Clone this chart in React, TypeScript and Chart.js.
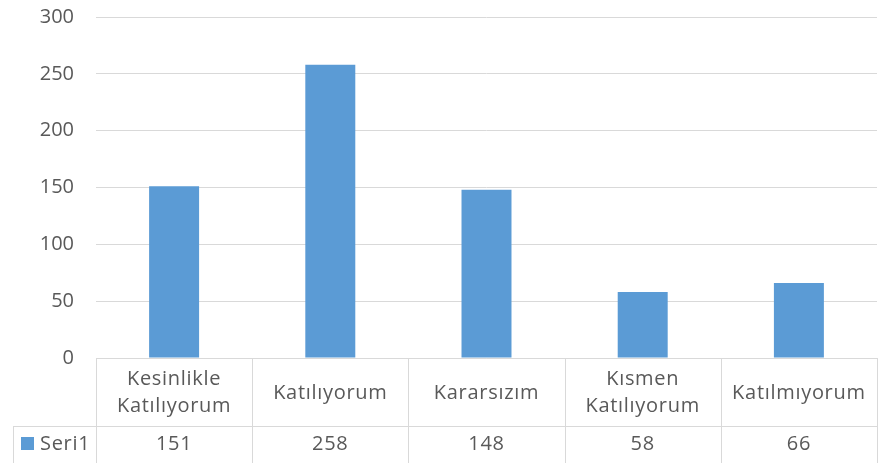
import React, { useEffect, useRef } from "react";
import { Chart, registerables } from "chart.js";

Chart.register(...registerables);

const categories: string[][] = [
  ["Kesinlikle", "Katılıyorum"],
  ["Katılıyorum"],
  ["Kararsızım"],
  ["Kısmen", "Katılıyorum"],
  ["Katılmıyorum"],
];
const seriesName = "Seri1";
const seriesValues = [151, 258, 148, 58, 66];
const yTicks = [0, 50, 100, 150, 200, 250, 300];

const BAR = "#5B9BD5";
const TEXT = "#595959";
const GRID = "#d9d9d9";
const FONT = "'Open Sans', sans-serif";

const tablePlugin = {
  id: "dataTable",
  afterDraw(chart: any) {
    const { ctx, chartArea } = chart;
    const x = chart.scales.x;
    const n = categories.length;
    const left = chartArea.left;
    const right = chartArea.right;
    const top = chartArea.bottom;
    const cw = (right - left) / n;
    const row1 = top + 68;
    const bottom = chart.height;
    const legendLeft = 13;
    ctx.save();
    ctx.strokeStyle = GRID;
    ctx.lineWidth = 1;
    const hline = (x1: number, x2: number, y: number) => {
      ctx.beginPath();
      ctx.moveTo(x1, Math.round(y) + 0.5);
      ctx.lineTo(x2, Math.round(y) + 0.5);
      ctx.stroke();
    };
    const vline = (xx: number, y1: number, y2: number) => {
      ctx.beginPath();
      ctx.moveTo(Math.round(xx) + 0.5, y1);
      ctx.lineTo(Math.round(xx) + 0.5, y2);
      ctx.stroke();
    };
    hline(left, right, top);
    hline(legendLeft, right, row1);
    for (let i = 0; i <= n; i++) vline(left + i * cw, top, bottom);
    vline(legendLeft, row1, bottom);

    ctx.fillStyle = TEXT;
    ctx.textAlign = "center";
    ctx.textBaseline = "middle";
    ctx.font = `20px ${FONT}`;
    (ctx as any).letterSpacing = "0.7px";
    categories.forEach((lines, i) => {
      const cx = x.getPixelForValue(i);
      const lh = 27;
      const cy = (top + row1) / 2 + 1;
      lines.forEach((ln, j) => {
        ctx.fillText(ln, cx, cy + (j - (lines.length - 1) / 2) * lh);
      });
    });
    const vy = row1 + 18;
    seriesValues.forEach((v, i) => {
      ctx.fillText(String(v), x.getPixelForValue(i), vy);
    });
    ctx.fillStyle = BAR;
    ctx.fillRect(21, vy - 7, 13, 13);
    ctx.fillStyle = TEXT;
    ctx.textAlign = "left";
    ctx.fillText(seriesName, 40, vy);
    ctx.restore();
  },
};

export default function App() {
  const ref = useRef<HTMLCanvasElement | null>(null);
  useEffect(() => {
    document.body.style.margin = "0";
    const chart = new Chart(ref.current as HTMLCanvasElement, {
      type: "bar",
      data: {
        labels: categories.map((c) => c.join(" ")),
        datasets: [
          {
            label: seriesName,
            data: seriesValues,
            backgroundColor: BAR,
            categoryPercentage: 1,
            barPercentage: 0.32,
          },
        ],
      },
      options: {
        animation: false,
        responsive: false,
        maintainAspectRatio: false,
        layout: { padding: { top: 17, right: 14, left: 0, bottom: 0 } },
        plugins: { legend: { display: false }, tooltip: { enabled: false } },
        scales: {
          x: {
            grid: { display: false },
            border: { display: false },
            ticks: { display: false },
            afterFit: (s: any) => {
              s.height = 105;
            },
          },
          y: {
            min: 0,
            max: 300,
            afterBuildTicks: (s: any) => {
              s.ticks = yTicks.map((v) => ({ value: v }));
            },
            grid: { color: GRID, drawTicks: false, lineWidth: 1 },
            border: { display: false },
            ticks: {
              color: TEXT,
              font: { family: FONT, size: 20 },
              padding: 22,
            },
            afterFit: (s: any) => {
              s.width = 96;
              s.paddingTop = 0;
              s.paddingBottom = 0;
            },
          },
        },
      },
      plugins: [tablePlugin],
    });
    return () => chart.destroy();
  }, []);
  return (
    <div style={{ width: 891, height: 463 }}>
      <canvas ref={ref} width={891} height={463} style={{ display: "block" }} />
    </div>
  );
}
